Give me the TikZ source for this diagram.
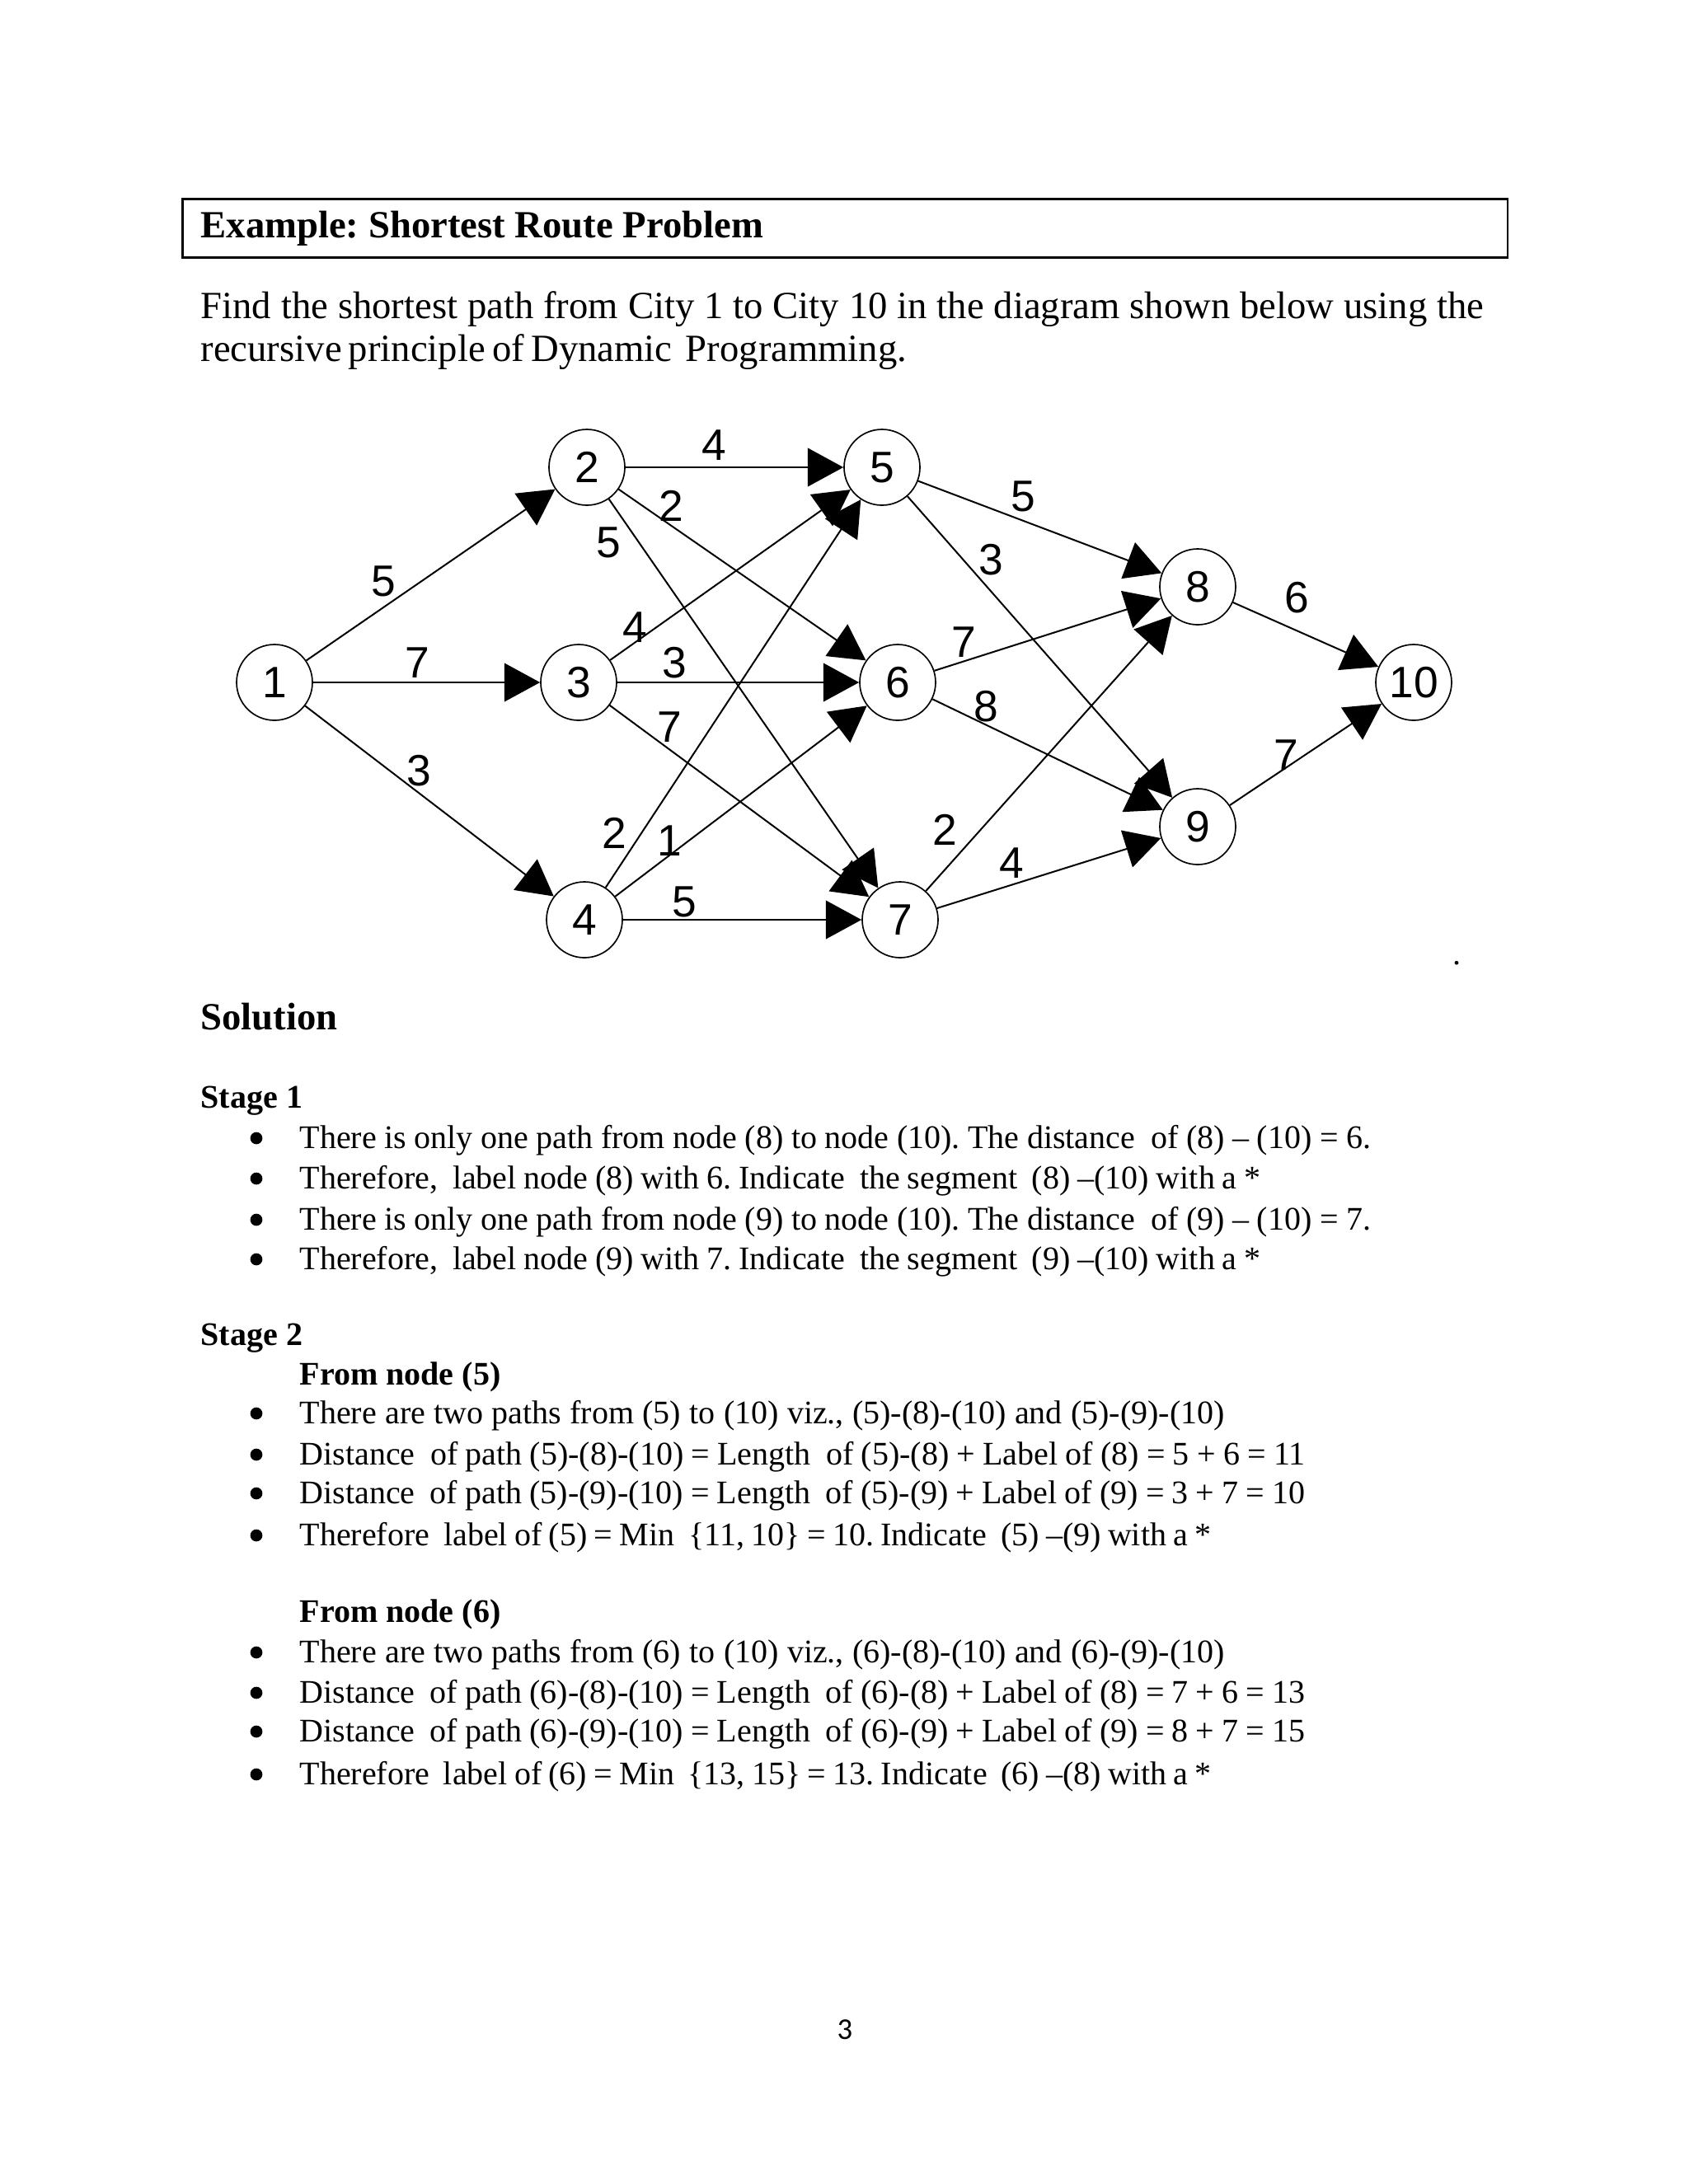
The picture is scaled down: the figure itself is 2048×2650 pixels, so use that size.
\documentclass[tikz,border=0pt]{standalone}
\usepackage{fontspec}
\setmainfont{Liberation Serif}
\newfontfamily\graphfont{Liberation Sans}
\newfontfamily\pagefont{Carlito}
\usetikzlibrary{arrows.meta}
\newcommand{\fitline}[2]{\makebox[#1][s]{#2}}
\frenchspacing

\begin{document}
\begin{tikzpicture}[
    x=0.10542mm, y=-0.10542mm,
    city/.style={circle,draw,line width=0.5pt,minimum size=9.7mm,inner sep=0pt,
        font=\graphfont\fontsize{16}{16}\selectfont},
    road/.style={line width=0.6pt,-{Triangle[length=13pt,width=14pt]}},
    cost/.style={inner sep=0pt,font=\graphfont\fontsize{16}{16}\selectfont},
    big/.style={anchor=base west,inner sep=0pt,font=\fontsize{14}{17}\selectfont},
    bigbf/.style={big,font=\fontsize{14}{17}\selectfont\bfseries},
    body/.style={anchor=base west,inner sep=0pt,font=\fontsize{12}{14}\selectfont},
    bodybf/.style={body,font=\fontsize{12}{14}\selectfont\bfseries},
    bul/.style={circle,fill,inner sep=0pt,minimum size=1.55mm}
]
\useasboundingbox (0,0) rectangle (2048,2650);

% heading and problem
\draw[line width=0.8pt] (221.7,241.7) rectangle (1829,312.7);
\node[bigbf] (title) at (243,288.5) {Example: Shortest Route Problem};
\node[big] (intro1) at (243,386.7) {\fitline{164.1mm}{Find the shortest path from City 1 to City 10 in the diagram shown below using the}};
\node[big] (intro2) at (243,438.3) {\fitline{90.3mm}{recursive principle of Dynamic \ Programming.}};

% cities
\node[city] (c1) at (333,828) {1};
\node[city] (c2) at (712,567) {2};
\node[city] (c3) at (702,828) {3};
\node[city] (c4) at (709,1116) {4};
\node[city] (c5) at (1070,567) {5};
\node[city] (c6) at (1089,828) {6};
\node[city] (c7) at (1092,1116) {7};
\node[city] (c8) at (1453,712) {8};
\node[city] (c9) at (1453,1003) {9};
\node[city] (c10) at (1715,828) {10};

\draw[road] (c1) -- (c2);
\draw[road] (c1) -- (c3);
\draw[road] (c1) -- (c4);
\draw[road] (c2) -- (c5);
\draw[road] (c2) -- (c6);
\draw[road] (c2) -- (c7);
\draw[road] (c3) -- (c5);
\draw[road] (c3) -- (c6);
\draw[road] (c3) -- (c7);
\draw[road] (c4) -- (c5);
\draw[road] (c4) -- (c6);
\draw[road] (c4) -- (c7);
\draw[road] (c5) -- (c8);
\draw[road] (c5) -- (c9);
\draw[road] (c6) -- (c8);
\draw[road] (c6) -- (c9);
\draw[road] (c7) -- (c8);
\draw[road] (c7) -- (c9);
\draw[road] (c8) -- (c10);
\draw[road] (c9) -- (c10);

\node[cost] (d12) at (465,705) {5};
\node[cost] (d13) at (506,804) {7};
\node[cost] (d14) at (508,935) {3};
\node[cost] (d25) at (866,540) {4};
\node[cost] (d26) at (814,614) {2};
\node[cost] (d27) at (738,658) {5};
\node[cost] (d35) at (770,761) {4};
\node[cost] (d36) at (818,804) {3};
\node[cost] (d37) at (812,882) {7};
\node[cost] (d45) at (745,1011) {2};
\node[cost] (d46) at (812,1020) {1};
\node[cost] (d47) at (830,1094) {5};
\node[cost] (d58) at (1241,602) {5};
\node[cost] (d59) at (1202,679) {3};
\node[cost] (d68) at (1169,779) {7};
\node[cost] (d69) at (1196,857) {8};
\node[cost] (d78) at (1146,1007) {2};
\node[cost] (d79) at (1227,1047) {4};
\node[cost] (d810) at (1573,725) {6};
\node[cost] (d910) at (1560,916) {7};

\node[body] (dot) at (1762,1170) {.};

% solution text
\node[bigbf] (sol) at (243,1249) {Solution};
\node[bodybf] (st1) at (243,1344) {Stage 1};
\foreach \y in {1393,1442,1492,1540,1727,1777,1824,1875,2017,2066,2113,2165}
    \node[bul] (b\y) at (311,\y-12) {};
\node[body] (s1a) at (363,1393) {\fitline{137.0mm}{There is only one path from node (8) to node (10). The distance \ of (8) – (10) = 6.}};
\node[body] (s1b) at (363,1442) {\fitline{122.9mm}{Therefore, \ label node (8) with 6. Indicate \ the segment \ (8) –(10) with a *}};
\node[body] (s1c) at (363,1492) {\fitline{137.0mm}{There is only one path from node (9) to node (10). The distance \ of (9) – (10) = 7.}};
\node[body] (s1d) at (363,1540) {\fitline{122.9mm}{Therefore, \ label node (9) with 7. Indicate \ the segment \ (9) –(10) with a *}};

\node[bodybf] (st2) at (243,1632) {Stage 2};
\node[bodybf] (from5) at (363,1680) {From node (5)};
\node[body] (s5a) at (363,1727) {\fitline{118.3mm}{There are two paths from (5) to (10) viz., (5)-(8)-(10) and (5)-(9)-(10)}};
\node[body] (s5b) at (363,1777) {\fitline{128.6mm}{Distance \ of path (5)-(8)-(10) = Length \ of (5)-(8) + Label of (8) = 5 + 6 = 11}};
\node[body] (s5c) at (363,1824) {\fitline{128.6mm}{Distance \ of path (5)-(9)-(10) = Length \ of (5)-(9) + Label of (9) = 3 + 7 = 10}};
\node[body] (s5d) at (363,1875) {\fitline{116.6mm}{Therefore \ label of (5) = Min \ \{11, 10\} = 10. Indicate \ (5) –(9) with a *}};

\node[bodybf] (from6) at (363,1968) {From node (6)};
\node[body] (s6a) at (363,2017) {\fitline{118.3mm}{There are two paths from (6) to (10) viz., (6)-(8)-(10) and (6)-(9)-(10)}};
\node[body] (s6b) at (363,2066) {\fitline{128.6mm}{Distance \ of path (6)-(8)-(10) = Length \ of (6)-(8) + Label of (8) = 7 + 6 = 13}};
\node[body] (s6c) at (363,2113) {\fitline{128.6mm}{Distance \ of path (6)-(9)-(10) = Length \ of (6)-(9) + Label of (9) = 8 + 7 = 15}};
\node[body] (s6d) at (363,2165) {\fitline{116.6mm}{Therefore \ label of (6) = Min \ \{13, 15\} = 13. Indicate \ (6) –(8) with a *}};

\node[anchor=base,inner sep=0pt,font=\pagefont\fontsize{11}{13}\selectfont] (page) at (1025,2474) {3};

\end{tikzpicture}
\end{document}
